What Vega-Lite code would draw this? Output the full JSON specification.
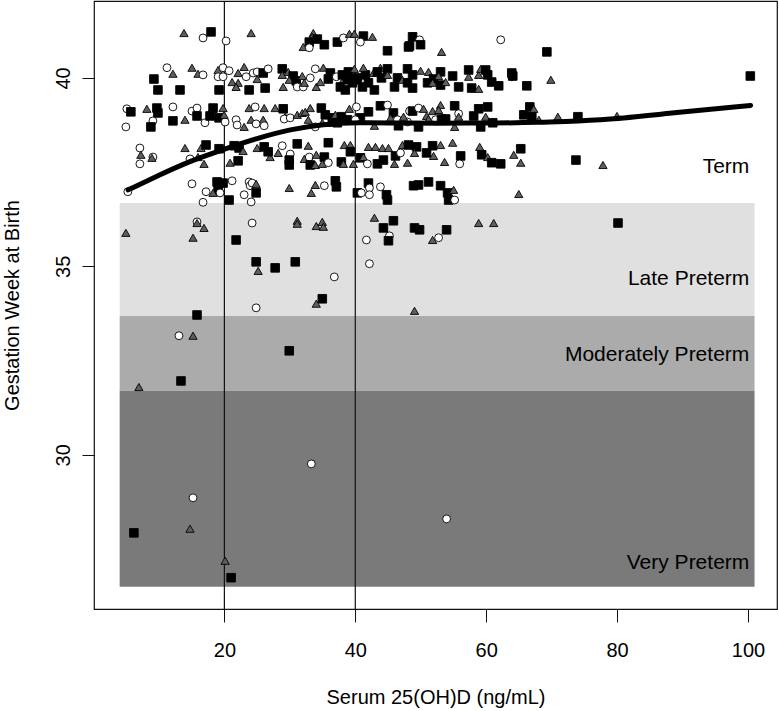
{
  "$schema": "https://vega.github.io/schema/vega-lite/v6.json",
  "width": 683,
  "height": 608,
  "autosize": {"type": "none"},
  "padding": {"left": 94, "top": 1, "right": 2, "bottom": 102},
  "background": "white",
  "config": {
    "view": {"stroke": "#111", "strokeWidth": 1.2},
    "font": "Liberation Sans",
    "axis": {"labelFont": "Liberation Sans", "titleFont": "Liberation Sans", "labelFontSize": 20, "titleFontSize": 20, "titleFontWeight": "normal", "labelColor": "#000", "titleColor": "#000", "tickColor": "#111", "domain": false, "grid": false, "labelFlush": false, "labelOverlap": false}
  },
  "datasets": {
    "bands": [
      {"from": 4, "to": 101, "lo": 33.68, "hi": 36.68, "zone": "Late Preterm"},
      {"from": 4, "to": 101, "lo": 31.7, "hi": 33.68, "zone": "Moderately Preterm"},
      {"from": 4, "to": 101, "lo": 26.5, "hi": 31.7, "zone": "Very Preterm"}
    ],
    "labels": [
      {"x": 100.2, "y": 37.64, "text": "Term"},
      {"x": 100.2, "y": 34.67, "text": "Late Preterm"},
      {"x": 100.2, "y": 32.65, "text": "Moderately Preterm"},
      {"x": 100.2, "y": 27.14, "text": "Very Preterm"}
    ],
    "cutoffs": [{"v": 20}, {"v": 40}],
    "smooth": [
      {"vitD": 5.3, "weeks": 37.03}, {"vitD": 10, "weeks": 37.42}, {"vitD": 14.8, "weeks": 37.8},
      {"vitD": 19.8, "weeks": 38.1}, {"vitD": 25, "weeks": 38.4}, {"vitD": 30.1, "weeks": 38.64},
      {"vitD": 35.1, "weeks": 38.77}, {"vitD": 40.3, "weeks": 38.82}, {"vitD": 46.9, "weeks": 38.8},
      {"vitD": 51.5, "weeks": 38.8}, {"vitD": 62.2, "weeks": 38.8}, {"vitD": 68.4, "weeks": 38.82},
      {"vitD": 71.4, "weeks": 38.84}, {"vitD": 78.6, "weeks": 38.89}, {"vitD": 87.8, "weeks": 39.06},
      {"vitD": 100.4, "weeks": 39.27}
    ],
    "points": [
      {"vitD":13.83,"weeks":41.19,"grp":"B"},{"vitD":16.74,"weeks":41.06,"grp":"A"},{"vitD":17.96,"weeks":41.22,"grp":"C"},{"vitD":20.26,"weeks":40.98,"grp":"A"},{"vitD":24.09,"weeks":41.19,"grp":"B"},
      {"vitD":11.23,"weeks":40.27,"grp":"A"},{"vitD":12.14,"weeks":40.11,"grp":"B"},{"vitD":9.23,"weeks":39.97,"grp":"C"},{"vitD":9.85,"weeks":39.68,"grp":"C"},{"vitD":13.22,"weeks":39.68,"grp":"C"},
      {"vitD":15.05,"weeks":40.27,"grp":"B"},{"vitD":15.97,"weeks":40.11,"grp":"B"},{"vitD":16.74,"weeks":40.08,"grp":"A"},{"vitD":19.04,"weeks":40.21,"grp":"B"},{"vitD":19.8,"weeks":40.27,"grp":"A"},
      {"vitD":19.04,"weeks":40.03,"grp":"A"},{"vitD":19.8,"weeks":40.03,"grp":"A"},{"vitD":20.72,"weeks":40.19,"grp":"A"},{"vitD":19.19,"weeks":39.68,"grp":"C"},{"vitD":21.18,"weeks":39.89,"grp":"B"},
      {"vitD":22.1,"weeks":39.87,"grp":"B"},{"vitD":21.79,"weeks":39.76,"grp":"B"},{"vitD":22.1,"weeks":40.13,"grp":"B"},{"vitD":23.02,"weeks":40.29,"grp":"B"},{"vitD":23.32,"weeks":40.03,"grp":"A"},
      {"vitD":23.78,"weeks":39.68,"grp":"C"},{"vitD":24.4,"weeks":40.13,"grp":"A"},
      {"vitD":5.1,"weeks":39.18,"grp":"A"},{"vitD":5.71,"weeks":39.1,"grp":"C"},{"vitD":4.95,"weeks":38.7,"grp":"A"},{"vitD":8.16,"weeks":39.18,"grp":"B"},{"vitD":9.69,"weeks":39.2,"grp":"C"},
      {"vitD":9.85,"weeks":39.07,"grp":"C"},{"vitD":12.14,"weeks":39.23,"grp":"A"},{"vitD":9.08,"weeks":38.86,"grp":"A"},{"vitD":8.77,"weeks":38.7,"grp":"C"},{"vitD":12.14,"weeks":38.86,"grp":"C"},
      {"vitD":13.98,"weeks":38.89,"grp":"B"},{"vitD":15.05,"weeks":39.12,"grp":"A"},{"vitD":15.82,"weeks":39.2,"grp":"A"},{"vitD":15.82,"weeks":38.99,"grp":"C"},{"vitD":17.04,"weeks":38.81,"grp":"A"},
      {"vitD":17.81,"weeks":38.99,"grp":"C"},{"vitD":18.12,"weeks":39.18,"grp":"B"},{"vitD":18.27,"weeks":39.2,"grp":"C"},{"vitD":19.8,"weeks":39.2,"grp":"B"},{"vitD":19.19,"weeks":38.94,"grp":"C"},
      {"vitD":20.11,"weeks":38.83,"grp":"A"},{"vitD":19.95,"weeks":39.02,"grp":"B"},{"vitD":21.79,"weeks":38.89,"grp":"A"},{"vitD":21.94,"weeks":38.75,"grp":"A"},{"vitD":23.02,"weeks":38.7,"grp":"B"},
      {"vitD":23.78,"weeks":39.2,"grp":"B"},{"vitD":24.09,"weeks":38.89,"grp":"B"},
      {"vitD":7.09,"weeks":38.14,"grp":"A"},{"vitD":7.24,"weeks":37.96,"grp":"B"},{"vitD":7.09,"weeks":37.72,"grp":"A"},{"vitD":9.08,"weeks":37.9,"grp":"A"},{"vitD":8.93,"weeks":37.88,"grp":"B"},
      {"vitD":13.98,"weeks":38.14,"grp":"B"},{"vitD":16.43,"weeks":38.14,"grp":"B"},{"vitD":17.2,"weeks":38.22,"grp":"C"},{"vitD":14.75,"weeks":37.85,"grp":"A"},{"vitD":15.97,"weeks":37.9,"grp":"B"},
      {"vitD":16.89,"weeks":37.72,"grp":"B"},{"vitD":19.19,"weeks":38.12,"grp":"C"},{"vitD":21.49,"weeks":38.2,"grp":"C"},{"vitD":22.25,"weeks":38.14,"grp":"C"},{"vitD":22.86,"weeks":38.06,"grp":"B"},
      {"vitD":22.1,"weeks":37.8,"grp":"C"},{"vitD":20.87,"weeks":37.75,"grp":"B"},
      {"vitD":15.05,"weeks":37.19,"grp":"A"},{"vitD":18.88,"weeks":37.24,"grp":"C"},{"vitD":19.8,"weeks":37.21,"grp":"C"},{"vitD":19.04,"weeks":37.03,"grp":"C"},{"vitD":18.27,"weeks":36.95,"grp":"B"},
      {"vitD":17.2,"weeks":36.98,"grp":"A"},{"vitD":19.34,"weeks":36.95,"grp":"A"},{"vitD":16.74,"weeks":36.7,"grp":"A"},{"vitD":20.72,"weeks":36.76,"grp":"C"},{"vitD":21.18,"weeks":37.27,"grp":"A"},
      {"vitD":23.02,"weeks":36.9,"grp":"A"},{"vitD":23.78,"weeks":37.24,"grp":"A"},{"vitD":23.93,"weeks":37.14,"grp":"A"},{"vitD":24.09,"weeks":36.71,"grp":"A"},{"vitD":5.25,"weeks":36.98,"grp":"A"},
      {"vitD":33.58,"weeks":41.19,"grp":"B"},{"vitD":33.43,"weeks":41.09,"grp":"B"},{"vitD":32.97,"weeks":40.95,"grp":"C"},{"vitD":34.2,"weeks":41.03,"grp":"C"},{"vitD":32.05,"weeks":40.82,"grp":"B"},
      {"vitD":32.97,"weeks":40.8,"grp":"A"},{"vitD":35.27,"weeks":40.88,"grp":"C"},{"vitD":37.26,"weeks":40.95,"grp":"C"},{"vitD":38.18,"weeks":41.06,"grp":"A"},{"vitD":39.1,"weeks":41.17,"grp":"B"},
      {"vitD":39.86,"weeks":41.17,"grp":"B"},{"vitD":41.24,"weeks":41.11,"grp":"C"},{"vitD":40.78,"weeks":40.95,"grp":"A"},{"vitD":42.62,"weeks":41.09,"grp":"B"},{"vitD":44.92,"weeks":40.72,"grp":"C"},
      {"vitD":48.13,"weeks":40.82,"grp":"C"},
      {"vitD":25.01,"weeks":40.16,"grp":"A"},{"vitD":25.01,"weeks":39.97,"grp":"B"},{"vitD":25.93,"weeks":40.13,"grp":"C"},{"vitD":26.69,"weeks":40.24,"grp":"A"},{"vitD":26.23,"weeks":39.73,"grp":"C"},
      {"vitD":28.84,"weeks":40.24,"grp":"C"},{"vitD":28.84,"weeks":40.08,"grp":"B"},{"vitD":29.75,"weeks":40.16,"grp":"B"},{"vitD":30.52,"weeks":40.05,"grp":"C"},{"vitD":29.91,"weeks":39.95,"grp":"B"},
      {"vitD":28.99,"weeks":39.76,"grp":"B"},{"vitD":30.98,"weeks":39.92,"grp":"C"},{"vitD":31.13,"weeks":39.76,"grp":"A"},{"vitD":31.9,"weeks":40.05,"grp":"B"},{"vitD":32.05,"weeks":39.76,"grp":"A"},
      {"vitD":32.21,"weeks":39.87,"grp":"B"},{"vitD":33.12,"weeks":40.0,"grp":"A"},{"vitD":34.04,"weeks":39.76,"grp":"B"},{"vitD":33.89,"weeks":40.24,"grp":"A"},{"vitD":35.12,"weeks":40.27,"grp":"B"},
      {"vitD":36.19,"weeks":40.13,"grp":"C"},{"vitD":34.66,"weeks":39.89,"grp":"B"},{"vitD":35.88,"weeks":39.97,"grp":"C"},{"vitD":37.11,"weeks":40.03,"grp":"A"},{"vitD":38.18,"weeks":39.95,"grp":"B"},
      {"vitD":38.94,"weeks":40.16,"grp":"C"},{"vitD":38.79,"weeks":39.95,"grp":"C"},{"vitD":37.72,"weeks":39.76,"grp":"C"},{"vitD":38.48,"weeks":39.68,"grp":"C"},{"vitD":39.56,"weeks":39.87,"grp":"C"},
      {"vitD":39.86,"weeks":40.24,"grp":"B"},{"vitD":40.32,"weeks":40.0,"grp":"C"},{"vitD":41.55,"weeks":40.08,"grp":"C"},{"vitD":41.24,"weeks":40.27,"grp":"B"},{"vitD":41.09,"weeks":39.76,"grp":"C"},
      {"vitD":42.77,"weeks":40.13,"grp":"B"},{"vitD":42.92,"weeks":39.68,"grp":"C"},{"vitD":43.84,"weeks":40.27,"grp":"B"},{"vitD":44.0,"weeks":40.0,"grp":"C"},{"vitD":44.92,"weeks":40.24,"grp":"C"},
      {"vitD":44.92,"weeks":40.08,"grp":"B"},{"vitD":45.99,"weeks":39.76,"grp":"C"},{"vitD":46.45,"weeks":40.0,"grp":"C"},{"vitD":47.21,"weeks":39.95,"grp":"B"},{"vitD":47.98,"weeks":40.24,"grp":"C"},
      {"vitD":47.98,"weeks":39.87,"grp":"C"},{"vitD":40.01,"weeks":39.95,"grp":"C"},{"vitD":42.01,"weeks":39.87,"grp":"C"},{"vitD":38.03,"weeks":40.08,"grp":"C"},{"vitD":43.38,"weeks":40.16,"grp":"C"},
      {"vitD":24.7,"weeks":39.23,"grp":"A"},{"vitD":26.08,"weeks":39.2,"grp":"B"},{"vitD":25.93,"weeks":38.89,"grp":"B"},{"vitD":24.85,"weeks":38.78,"grp":"A"},{"vitD":26.08,"weeks":38.73,"grp":"A"},
      {"vitD":27.76,"weeks":39.2,"grp":"B"},{"vitD":28.99,"weeks":39.18,"grp":"C"},{"vitD":29.3,"weeks":38.97,"grp":"B"},{"vitD":29.14,"weeks":38.91,"grp":"A"},{"vitD":30.06,"weeks":38.94,"grp":"A"},
      {"vitD":31.13,"weeks":39.02,"grp":"B"},{"vitD":31.9,"weeks":39.07,"grp":"B"},{"vitD":32.36,"weeks":39.1,"grp":"B"},{"vitD":33.12,"weeks":39.2,"grp":"B"},{"vitD":32.82,"weeks":38.89,"grp":"B"},
      {"vitD":34.81,"weeks":39.2,"grp":"C"},{"vitD":34.96,"weeks":38.81,"grp":"B"},{"vitD":33.89,"weeks":38.7,"grp":"A"},{"vitD":35.42,"weeks":39.02,"grp":"C"},{"vitD":36.19,"weeks":38.81,"grp":"B"},
      {"vitD":36.49,"weeks":38.94,"grp":"C"},{"vitD":36.95,"weeks":39.02,"grp":"B"},{"vitD":37.87,"weeks":38.97,"grp":"C"},{"vitD":37.26,"weeks":38.81,"grp":"C"},{"vitD":38.79,"weeks":38.89,"grp":"C"},
      {"vitD":39.1,"weeks":39.18,"grp":"B"},{"vitD":40.17,"weeks":39.23,"grp":"A"},{"vitD":40.78,"weeks":38.94,"grp":"C"},{"vitD":40.01,"weeks":38.89,"grp":"A"},{"vitD":42.01,"weeks":39.1,"grp":"C"},
      {"vitD":42.92,"weeks":38.73,"grp":"B"},{"vitD":43.84,"weeks":39.26,"grp":"C"},{"vitD":44.92,"weeks":39.28,"grp":"A"},{"vitD":45.83,"weeks":39.07,"grp":"C"},{"vitD":45.38,"weeks":38.94,"grp":"B"},
      {"vitD":46.45,"weeks":38.89,"grp":"A"},{"vitD":46.6,"weeks":38.73,"grp":"C"},{"vitD":47.98,"weeks":38.83,"grp":"A"},{"vitD":47.37,"weeks":38.97,"grp":"B"},
      {"vitD":25.01,"weeks":38.14,"grp":"B"},{"vitD":26.08,"weeks":38.17,"grp":"C"},{"vitD":26.99,"weeks":37.9,"grp":"B"},{"vitD":26.69,"weeks":38.04,"grp":"C"},{"vitD":28.22,"weeks":38.01,"grp":"B"},
      {"vitD":28.84,"weeks":38.2,"grp":"A"},{"vitD":30.06,"weeks":37.98,"grp":"A"},{"vitD":29.91,"weeks":37.82,"grp":"C"},{"vitD":29.91,"weeks":37.69,"grp":"C"},{"vitD":31.13,"weeks":38.25,"grp":"C"},
      {"vitD":32.82,"weeks":38.2,"grp":"B"},{"vitD":32.21,"weeks":37.85,"grp":"B"},{"vitD":32.97,"weeks":37.9,"grp":"A"},{"vitD":34.04,"weeks":37.96,"grp":"B"},{"vitD":35.27,"weeks":37.9,"grp":"C"},
      {"vitD":33.12,"weeks":37.69,"grp":"C"},{"vitD":33.89,"weeks":37.69,"grp":"B"},{"vitD":34.96,"weeks":37.72,"grp":"B"},{"vitD":35.88,"weeks":37.75,"grp":"A"},{"vitD":35.88,"weeks":38.28,"grp":"C"},
      {"vitD":38.33,"weeks":38.22,"grp":"B"},{"vitD":39.25,"weeks":38.22,"grp":"B"},{"vitD":39.25,"weeks":38.04,"grp":"C"},{"vitD":37.87,"weeks":37.77,"grp":"C"},{"vitD":38.18,"weeks":37.72,"grp":"B"},
      {"vitD":39.71,"weeks":37.72,"grp":"B"},{"vitD":40.78,"weeks":37.88,"grp":"C"},{"vitD":41.24,"weeks":37.9,"grp":"B"},{"vitD":41.85,"weeks":37.72,"grp":"A"},{"vitD":42.01,"weeks":38.17,"grp":"B"},
      {"vitD":43.08,"weeks":38.17,"grp":"B"},{"vitD":44.15,"weeks":38.14,"grp":"B"},{"vitD":45.07,"weeks":38.14,"grp":"B"},{"vitD":43.38,"weeks":37.72,"grp":"C"},{"vitD":44.3,"weeks":37.82,"grp":"C"},
      {"vitD":45.99,"weeks":37.72,"grp":"B"},{"vitD":46.14,"weeks":37.93,"grp":"C"},{"vitD":46.91,"weeks":38.01,"grp":"A"},{"vitD":47.21,"weeks":38.22,"grp":"B"},{"vitD":47.98,"weeks":37.75,"grp":"B"},
      {"vitD":24.24,"weeks":37.21,"grp":"A"},{"vitD":24.85,"weeks":37.19,"grp":"B"},{"vitD":24.85,"weeks":36.95,"grp":"C"},{"vitD":29.91,"weeks":37.08,"grp":"B"},{"vitD":33.28,"weeks":36.95,"grp":"B"},
      {"vitD":33.89,"weeks":37.16,"grp":"B"},{"vitD":35.27,"weeks":37.14,"grp":"A"},{"vitD":36.95,"weeks":37.27,"grp":"C"},{"vitD":37.11,"weeks":37.11,"grp":"C"},{"vitD":40.32,"weeks":36.95,"grp":"C"},
      {"vitD":40.93,"weeks":36.95,"grp":"A"},{"vitD":42.01,"weeks":37.21,"grp":"C"},{"vitD":42.16,"weeks":37.08,"grp":"A"},{"vitD":43.84,"weeks":37.11,"grp":"A"},{"vitD":44.76,"weeks":36.9,"grp":"C"},
      {"vitD":44.92,"weeks":36.76,"grp":"C"},{"vitD":42.16,"weeks":36.9,"grp":"A"},
      {"vitD":48.75,"weeks":41.09,"grp":"C"},{"vitD":48.29,"weeks":40.85,"grp":"C"},{"vitD":49.82,"weeks":41.01,"grp":"A"},{"vitD":49.97,"weeks":40.88,"grp":"C"},{"vitD":53.18,"weeks":40.69,"grp":"B"},
      {"vitD":62.22,"weeks":41.01,"grp":"A"},{"vitD":69.27,"weeks":40.69,"grp":"C"},
      {"vitD":48.75,"weeks":40.08,"grp":"C"},{"vitD":48.75,"weeks":39.73,"grp":"C"},{"vitD":49.97,"weeks":40.19,"grp":"B"},{"vitD":51.19,"weeks":40.16,"grp":"B"},{"vitD":51.04,"weeks":39.87,"grp":"C"},
      {"vitD":51.96,"weeks":39.97,"grp":"C"},{"vitD":51.81,"weeks":39.87,"grp":"B"},{"vitD":53.03,"weeks":40.16,"grp":"C"},{"vitD":52.73,"weeks":40.05,"grp":"B"},{"vitD":53.03,"weeks":39.81,"grp":"C"},
      {"vitD":53.8,"weeks":39.89,"grp":"B"},{"vitD":54.87,"weeks":40.05,"grp":"C"},{"vitD":55.79,"weeks":39.76,"grp":"C"},{"vitD":57.32,"weeks":40.21,"grp":"C"},{"vitD":57.32,"weeks":40.03,"grp":"B"},
      {"vitD":57.78,"weeks":39.73,"grp":"C"},{"vitD":58.85,"weeks":39.71,"grp":"B"},{"vitD":58.85,"weeks":40.08,"grp":"B"},{"vitD":59.16,"weeks":40.24,"grp":"B"},{"vitD":59.92,"weeks":40.21,"grp":"C"},
      {"vitD":60.23,"weeks":40.08,"grp":"C"},{"vitD":60.84,"weeks":39.89,"grp":"C"},{"vitD":61.91,"weeks":39.79,"grp":"C"},{"vitD":63.91,"weeks":40.13,"grp":"C"},{"vitD":63.91,"weeks":40.03,"grp":"A"},
      {"vitD":64.06,"weeks":40.05,"grp":"C"},{"vitD":66.2,"weeks":39.79,"grp":"C"},{"vitD":69.88,"weeks":39.95,"grp":"B"},
      {"vitD":48.29,"weeks":39.12,"grp":"A"},{"vitD":48.75,"weeks":39.12,"grp":"C"},{"vitD":49.66,"weeks":39.2,"grp":"A"},{"vitD":50.43,"weeks":39.18,"grp":"B"},{"vitD":50.89,"weeks":38.99,"grp":"B"},
      {"vitD":51.19,"weeks":38.91,"grp":"B"},{"vitD":49.66,"weeks":38.7,"grp":"C"},{"vitD":51.81,"weeks":39.12,"grp":"B"},{"vitD":53.03,"weeks":39.28,"grp":"B"},{"vitD":52.73,"weeks":39.15,"grp":"B"},
      {"vitD":52.27,"weeks":38.89,"grp":"A"},{"vitD":53.18,"weeks":38.91,"grp":"C"},{"vitD":53.8,"weeks":38.91,"grp":"C"},{"vitD":55.18,"weeks":39.26,"grp":"C"},{"vitD":55.79,"weeks":39.05,"grp":"A"},
      {"vitD":55.79,"weeks":38.97,"grp":"B"},{"vitD":55.18,"weeks":38.7,"grp":"B"},{"vitD":58.85,"weeks":39.18,"grp":"C"},{"vitD":60.23,"weeks":39.23,"grp":"C"},{"vitD":58.09,"weeks":38.99,"grp":"C"},
      {"vitD":59.92,"weeks":38.97,"grp":"B"},{"vitD":59.16,"weeks":38.7,"grp":"C"},{"vitD":61.0,"weeks":38.81,"grp":"C"},{"vitD":65.74,"weeks":39.02,"grp":"C"},{"vitD":66.66,"weeks":39.23,"grp":"C"},
      {"vitD":67.27,"weeks":39.18,"grp":"B"},{"vitD":66.97,"weeks":38.97,"grp":"C"},{"vitD":68.04,"weeks":38.89,"grp":"B"},{"vitD":70.95,"weeks":38.97,"grp":"B"},
      {"vitD":48.13,"weeks":38.22,"grp":"C"},{"vitD":49.36,"weeks":38.17,"grp":"C"},{"vitD":49.05,"weeks":38.01,"grp":"B"},{"vitD":50.89,"weeks":38.01,"grp":"C"},{"vitD":51.81,"weeks":38.2,"grp":"C"},
      {"vitD":53.03,"weeks":38.22,"grp":"B"},{"vitD":54.87,"weeks":38.28,"grp":"B"},{"vitD":51.96,"weeks":37.93,"grp":"B"},{"vitD":53.64,"weeks":37.77,"grp":"B"},{"vitD":56.1,"weeks":37.93,"grp":"C"},
      {"vitD":55.95,"weeks":37.72,"grp":"A"},{"vitD":59.01,"weeks":38.17,"grp":"B"},{"vitD":59.31,"weeks":37.96,"grp":"C"},{"vitD":60.23,"weeks":37.9,"grp":"B"},{"vitD":60.84,"weeks":37.75,"grp":"C"},
      {"vitD":62.22,"weeks":37.72,"grp":"C"},{"vitD":64.21,"weeks":37.96,"grp":"B"},{"vitD":65.28,"weeks":38.12,"grp":"C"},{"vitD":65.28,"weeks":37.75,"grp":"B"},
      {"vitD":48.9,"weeks":37.14,"grp":"C"},{"vitD":49.66,"weeks":37.16,"grp":"C"},{"vitD":51.19,"weeks":37.24,"grp":"C"},{"vitD":53.03,"weeks":37.14,"grp":"C"},{"vitD":54.1,"weeks":36.95,"grp":"C"},
      {"vitD":55.02,"weeks":37.03,"grp":"B"},{"vitD":54.26,"weeks":36.76,"grp":"C"},{"vitD":55.18,"weeks":36.76,"grp":"A"},{"vitD":64.98,"weeks":36.92,"grp":"B"},
      {"vitD":74.01,"weeks":38.97,"grp":"C"},{"vitD":79.98,"weeks":38.99,"grp":"B"},{"vitD":100.35,"weeks":40.05,"grp":"C"},{"vitD":73.71,"weeks":37.82,"grp":"C"},{"vitD":77.84,"weeks":37.69,"grp":"B"},
      {"vitD":4.95,"weeks":35.89,"grp":"B"},{"vitD":15.82,"weeks":36.18,"grp":"A"},{"vitD":15.82,"weeks":36.15,"grp":"B"},{"vitD":16.89,"weeks":36.02,"grp":"B"},{"vitD":15.21,"weeks":35.76,"grp":"B"},
      {"vitD":24.24,"weeks":36.15,"grp":"A"},{"vitD":21.79,"weeks":35.7,"grp":"C"},{"vitD":31.13,"weeks":36.21,"grp":"B"},{"vitD":31.13,"weeks":36.13,"grp":"B"},{"vitD":34.04,"weeks":36.07,"grp":"B"},
      {"vitD":34.96,"weeks":36.18,"grp":"B"},{"vitD":35.12,"weeks":36.05,"grp":"B"},{"vitD":24.85,"weeks":35.12,"grp":"C"},{"vitD":25.16,"weeks":34.88,"grp":"B"},{"vitD":27.76,"weeks":34.96,"grp":"C"},
      {"vitD":30.83,"weeks":35.12,"grp":"C"},{"vitD":36.8,"weeks":34.72,"grp":"A"},{"vitD":34.96,"weeks":34.14,"grp":"C"},{"vitD":34.04,"weeks":34.01,"grp":"B"},{"vitD":24.85,"weeks":33.9,"grp":"A"},
      {"vitD":42.92,"weeks":36.29,"grp":"B"},{"vitD":45.83,"weeks":36.21,"grp":"C"},{"vitD":44.3,"weeks":36.02,"grp":"C"},{"vitD":45.22,"weeks":35.81,"grp":"A"},{"vitD":45.07,"weeks":35.68,"grp":"C"},
      {"vitD":41.7,"weeks":35.7,"grp":"A"},{"vitD":42.16,"weeks":35.07,"grp":"A"},{"vitD":49.05,"weeks":36.02,"grp":"C"},{"vitD":49.82,"weeks":35.97,"grp":"C"},{"vitD":49.05,"weeks":33.82,"grp":"B"},
      {"vitD":15.82,"weeks":33.71,"grp":"C"},{"vitD":13.06,"weeks":33.16,"grp":"A"},{"vitD":15.21,"weeks":33.16,"grp":"B"},{"vitD":29.91,"weeks":32.76,"grp":"C"},{"vitD":13.37,"weeks":31.96,"grp":"C"},
      {"vitD":6.94,"weeks":31.8,"grp":"B"},{"vitD":51.81,"weeks":35.7,"grp":"B"},{"vitD":52.73,"weeks":35.76,"grp":"A"},{"vitD":53.95,"weeks":35.97,"grp":"C"},{"vitD":58.85,"weeks":36.15,"grp":"B"},
      {"vitD":61.15,"weeks":36.15,"grp":"B"},{"vitD":80.14,"weeks":36.15,"grp":"C"},
      {"vitD":33.28,"weeks":29.76,"grp":"A"},{"vitD":15.21,"weeks":28.86,"grp":"A"},{"vitD":14.75,"weeks":28.04,"grp":"B"},{"vitD":6.17,"weeks":27.93,"grp":"C"},{"vitD":53.95,"weeks":28.3,"grp":"A"},
      {"vitD":20.11,"weeks":27.19,"grp":"B"},{"vitD":21.03,"weeks":26.74,"grp":"C"}
    ]
  },
  "encoding": {
    "x": {"type": "quantitative"},
    "y": {"type": "quantitative"}
  },
  "layer": [
    {
      "data": {"name": "bands"},
      "mark": {"type": "rect"},
      "encoding": {
        "x": {"field": "from", "type": "quantitative", "scale": {"domain": [0.08, 104.43], "nice": false, "zero": false},
              "axis": {"values": [20, 40, 60, 80, 100], "tickSize": 13, "labelPadding": 18, "title": "Serum 25(OH)D (ng/mL)", "titleY": 88, "titleBaseline": "middle"}},
        "x2": {"field": "to"},
        "y": {"field": "lo", "type": "quantitative", "scale": {"domain": [25.91, 42.04], "nice": false, "zero": false},
              "axis": {"values": [30, 35, 40], "tickSize": 12, "labelPadding": 13, "labelAngle": 270, "labelAlign": "center", "labelBaseline": "alphabetic", "title": "Gestation Week at Birth", "titleAngle": 270, "titleX": -82, "titleY": 304, "titleAlign": "center", "titleBaseline": "middle"}},
        "y2": {"field": "hi"},
        "fill": {"field": "zone", "type": "nominal", "scale": {"domain": ["Late Preterm", "Moderately Preterm", "Very Preterm"], "range": ["#e0e0e0", "#ababab", "#7a7a7a"]}, "legend": null}
      }
    },
    {
      "data": {"name": "labels"},
      "mark": {"type": "text", "align": "right", "baseline": "middle", "fontSize": 21, "font": "Liberation Sans", "color": "#000"},
      "encoding": {
        "x": {"field": "x", "type": "quantitative"},
        "y": {"field": "y", "type": "quantitative"},
        "text": {"field": "text"}
      }
    },
    {
      "data": {"name": "cutoffs"},
      "mark": {"type": "rule", "color": "#111", "strokeWidth": 1.2},
      "encoding": {"x": {"field": "v", "type": "quantitative"}}
    },
    {
      "data": {"name": "points"},
      "mark": {"type": "point", "filled": true, "stroke": "#000", "strokeWidth": 0.9, "opacity": 1},
      "encoding": {
        "x": {"field": "vitD", "type": "quantitative"},
        "y": {"field": "weeks", "type": "quantitative"},
        "shape": {"field": "grp", "type": "nominal", "scale": {"domain": ["A", "B", "C"], "range": ["circle", "triangle-up", "square"]}, "legend": null},
        "fill": {"field": "grp", "type": "nominal", "scale": {"domain": ["A", "B", "C"], "range": ["#ffffff", "#5e5e5e", "#000000"]}, "legend": null},
        "size": {"field": "grp", "type": "nominal", "scale": {"domain": ["A", "B", "C"], "range": [62, 74, 78]}, "legend": null}
      }
    },
    {
      "data": {"name": "smooth"},
      "mark": {"type": "line", "color": "#000", "strokeWidth": 5, "interpolate": "basis", "strokeCap": "round"},
      "encoding": {
        "x": {"field": "vitD", "type": "quantitative"},
        "y": {"field": "weeks", "type": "quantitative"}
      }
    }
  ],
  "resolve": {"scale": {"fill": "independent"}}
}
